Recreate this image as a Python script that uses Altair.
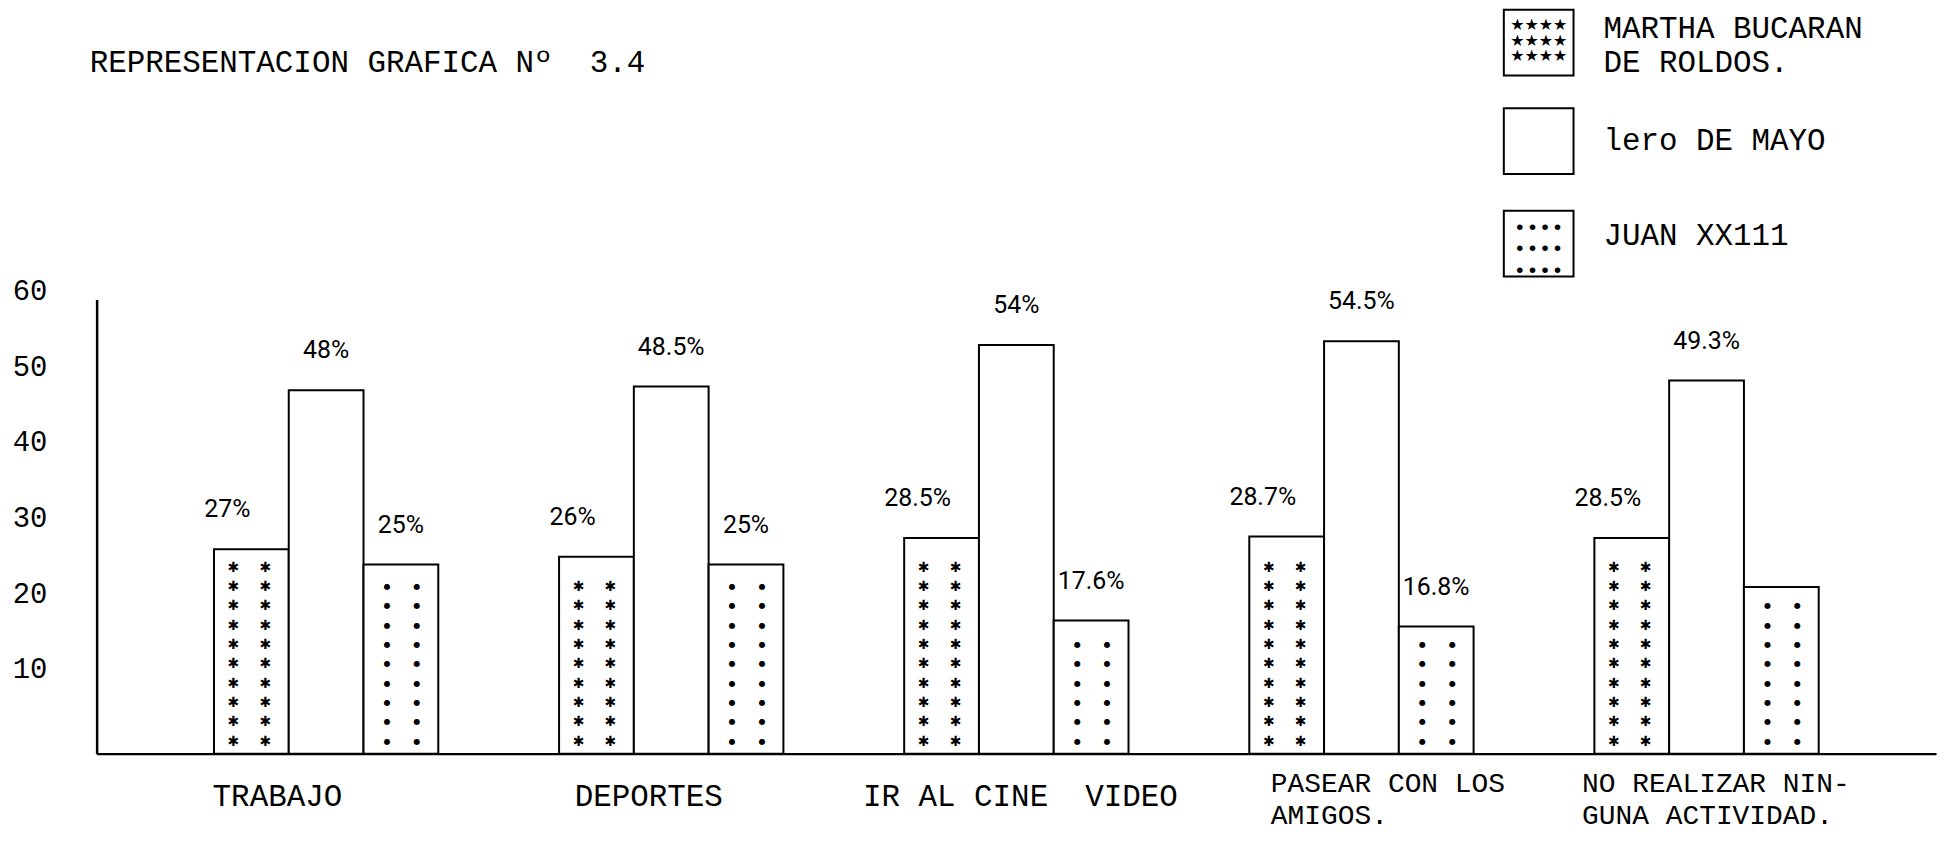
import altair as alt
import pandas as pd

# ---------------- data ----------------
categories = ["TRABAJO", "DEPORTES", "IR AL CINE \u00a0VIDEO",
              "PASEAR CON LOS|AMIGOS.", "NO REALIZAR NIN-|GUNA ACTIVIDAD."]
series = ["MARTHA BUCARAN DE ROLDOS.", "lero DE MAYO", "JUAN XX111"]
martha = [27, 26, 28.5, 28.7, 28.5]
primero = [48, 48.5, 54, 54.5, 49.3]
juan = [25, 25, 17.6, 16.8, 22]
labels_martha = ["27%", "26%", "28.5%", "28.7%", "28.5%"]
labels_primero = ["48%", "48.5%", "54%", "54.5%", "49.3%"]
labels_juan = ["25%", "25%", "17.6%", "16.8%", ""]
y_ticks = [10, 20, 30, 40, 50, 60]
title_text = "REPRESENTACION GRAFICA N\u00ba\u00a0\u00a03.4"
legend_lines = ["MARTHA BUCARAN", "DE ROLDOS.", "lero DE MAYO", "JUAN XX111"]

rows = []
for s, vals, labs in zip(series, [martha, primero, juan],
                         [labels_martha, labels_primero, labels_juan]):
    for c, v, l in zip(categories, vals, labs):
        rows.append({"cat": c, "serie": s, "valor": v, "etiqueta": l})
df = pd.DataFrame(rows)

# texture glyph rows (fill pattern of the hatched bars)
def texture(serie, vals):
    out = []
    for c, v in zip(categories, vals):
        y = 1.6
        while y <= v - 2.0:
            out.append({"cat": c, "serie": serie, "valor": y})
            y += 2.55
    return pd.DataFrame(out)

stars_df = texture(series[0], martha)
dots_df = texture(series[2], juan)
one = pd.DataFrame({"k": [0]})

MONO = "Liberation Mono"
NARROW = "Liberation Sans Narrow, Roboto, sans-serif"
MULTI = "indexof(datum.value, '|') >= 0"

x_axis = alt.Axis(
    title=None, ticks=False, grid=False, domain=True, domainWidth=2.5,
    domainColor="black", labelFont=MONO, labelColor="black",
    labelFontSize={"condition": {"test": MULTI, "value": 28}, "value": 31},
    labelPadding={"condition": {"test": MULTI, "value": 16}, "value": 28},
    labelAlign="left", labelBaseline="top", labelLineHeight=32,
    labelAngle=0, labelLimit=0, labelExpr="split(datum.label, '|')",
    labelOffset={"condition": [
        {"test": "datum.value === '%s'" % categories[0], "value": -114},
        {"test": "datum.value === '%s'" % categories[1], "value": -97},
        {"test": "datum.value === '%s'" % categories[2], "value": -154},
        {"test": "datum.value === '%s'" % categories[3], "value": -91},
    ], "value": -125},
)
y_axis = alt.Axis(
    title=None, values=y_ticks, ticks=False, grid=False, domain=True,
    domainWidth=2.5, domainColor="black", labelFont=MONO, labelFontSize=29,
    labelColor="black", labelPadding=50, labelOffset=-9,
)

def X():
    return alt.X("cat:N", sort=categories,
                 scale=alt.Scale(paddingInner=0.35, paddingOuter=0.34),
                 axis=x_axis)

def XO():
    return alt.XOffset("serie:N", sort=series,
                       scale=alt.Scale(paddingInner=0, paddingOuter=0))

def Y():
    return alt.Y("valor:Q", scale=alt.Scale(domain=[0, 60], nice=False, zero=True),
                 axis=y_axis)

bars = alt.Chart(df).mark_bar(fill="white", stroke="black", strokeWidth=2).encode(
    x=X(), xOffset=XO(), y=Y())

layers = [bars]
for dx in (-18, 14):
    layers.append(alt.Chart(stars_df).mark_text(
        text="\u2731", font="DejaVu Sans", fontSize=14, baseline="middle",
        color="black", dx=dx).encode(x=X(), xOffset=XO(), y=Y()))
for dx in (-14, 16):
    layers.append(alt.Chart(dots_df).mark_text(
        text="\u25cf", font="DejaVu Sans", fontSize=8, baseline="middle",
        color="black", dx=dx).encode(x=X(), xOffset=XO(), y=Y()))

lab_m = alt.Chart(df).transform_filter(alt.datum.serie == series[0]).mark_text(
    font=NARROW, fontSize=25, baseline="middle", color="black", dy=-40, dx=-24
).encode(x=X(), xOffset=XO(), y=Y(), text="etiqueta:N")
lab_o = alt.Chart(df).transform_filter(alt.datum.serie != series[0]).mark_text(
    font=NARROW, fontSize=25, baseline="middle", color="black", dy=-40
).encode(x=X(), xOffset=XO(), y=Y(), text="etiqueta:N")
layers += [lab_m, lab_o]

# ---------------- legend ----------------
box_tops = [-291, -192, -89]
for top in box_tops:
    layers.append(alt.Chart(one).mark_rect(fill="white", stroke="black", strokeWidth=2).encode(
        x=alt.value(1413), x2=alt.value(1483), y=alt.value(top), y2=alt.value(top + 66)))
layers.append(alt.Chart(one).mark_text(
    font="DejaVu Sans", fontSize=16, baseline="middle", align="center", color="black",
    lineHeight=16
).encode(x=alt.value(1448), y=alt.value(-276),
         text=alt.value(["\u2605\u2605\u2605\u2605"] * 3)))
layers.append(alt.Chart(one).mark_text(
    font=MONO, fontSize=21, baseline="middle", align="center", color="black",
    lineHeight=21.5
).encode(x=alt.value(1448), y=alt.value(-72),
         text=alt.value(["\u2022\u2022\u2022\u2022"] * 3)))
for line, yy in zip(legend_lines, (-272, -237, -159, -64)):
    layers.append(alt.Chart(one).mark_text(
        font=MONO, fontSize=31, baseline="middle", align="left", color="black"
    ).encode(x=alt.value(1513), y=alt.value(yy), text=alt.value(line)))

# ---------------- title ----------------
layers.append(alt.Chart(one).mark_text(
    font=MONO, fontSize=31, baseline="middle", align="left", color="black"
).encode(x=alt.value(-7), y=alt.value(-237), text=alt.value(title_text)))

chart = alt.layer(*layers).properties(
    width=1847, height=456,
    padding={"left": 89, "top": 291, "right": 10, "bottom": 80},
    autosize=alt.AutoSizeParams(type="none"),
).configure(background="white").configure_view(stroke=None)

chart.save("out.html", embed_options={"renderer": "svg", "actions": False})
